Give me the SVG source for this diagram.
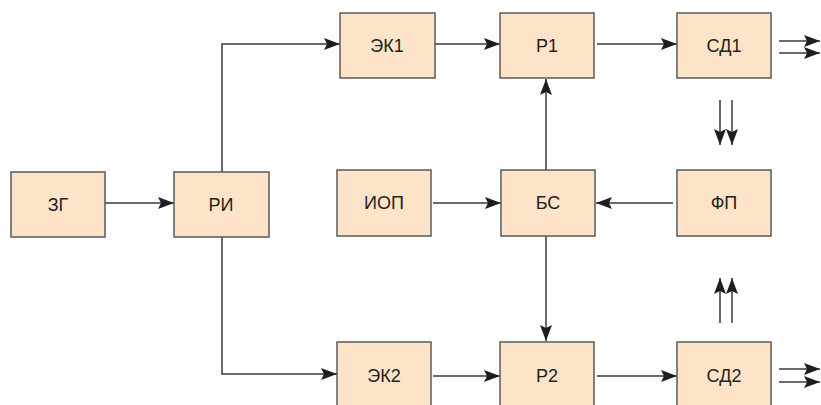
<svg xmlns="http://www.w3.org/2000/svg" width="821" height="405" viewBox="0 0 821 405">
<style>
.box{fill:#fde4c8;stroke:#5a5a5a;stroke-width:1.5}
.lbl{font-family:"Liberation Sans",Arial,sans-serif;font-size:18px;fill:#231f20;text-anchor:middle}
.ln{fill:none;stroke:#3a3a3a;stroke-width:1.5}
</style>
<defs>
<marker id="ah" viewBox="0 0 16 12" refX="16" refY="6" markerWidth="16" markerHeight="12" markerUnits="userSpaceOnUse" orient="auto">
<path d="M0,0 L16,6 L0,12 L3,6 Z" fill="#1e1e1e"/>
</marker>
</defs>
<rect width="821" height="405" fill="#ffffff"/>
<g id="connectors">
<path class="ln" d="M105,203 H174" marker-end="url(#ah)"/>
<path class="ln" d="M222,172 V44 H340" marker-end="url(#ah)"/>
<path class="ln" d="M222,237 V374 H337" marker-end="url(#ah)"/>
<path class="ln" d="M435,44 H500" marker-end="url(#ah)"/>
<path class="ln" d="M597,44 H677" marker-end="url(#ah)"/>
<path class="ln" d="M433,203 H501" marker-end="url(#ah)"/>
<path class="ln" d="M673,203 H596" marker-end="url(#ah)"/>
<path class="ln" d="M546,170 V79" marker-end="url(#ah)"/>
<path class="ln" d="M546,236 V341" marker-end="url(#ah)"/>
<path class="ln" d="M433,376 H500" marker-end="url(#ah)"/>
<path class="ln" d="M597,376 H677" marker-end="url(#ah)"/>
<path class="ln" d="M779,41 H820" marker-end="url(#ah)"/>
<path class="ln" d="M779,53 H820" marker-end="url(#ah)"/>
<path class="ln" d="M779,369 H820" marker-end="url(#ah)"/>
<path class="ln" d="M779,382 H820" marker-end="url(#ah)"/>
<path class="ln" d="M720,100 V145" marker-end="url(#ah)"/>
<path class="ln" d="M732,100 V145" marker-end="url(#ah)"/>
<path class="ln" d="M720,323 V278" marker-end="url(#ah)"/>
<path class="ln" d="M732,323 V278" marker-end="url(#ah)"/>
</g>
<g id="zg"><rect class="box" x="11" y="172" width="94" height="65"/><text class="lbl" x="58" y="211">ЗГ</text></g>
<g id="ri"><rect class="box" x="174" y="172" width="95" height="65"/><text class="lbl" x="221" y="211">РИ</text></g>
<g id="ek1"><rect class="box" x="340" y="13" width="95" height="65"/><text class="lbl" x="387" y="52">ЭК1</text></g>
<g id="p1"><rect class="box" x="500" y="13" width="94" height="65"/><text class="lbl" x="547" y="52">Р1</text></g>
<g id="sd1"><rect class="box" x="677" y="13" width="94" height="65"/><text class="lbl" x="724" y="52">СД1</text></g>
<g id="iop"><rect class="box" x="337" y="170" width="94" height="66"/><text class="lbl" x="384" y="209">ИОП</text></g>
<g id="bs"><rect class="box" x="501" y="170" width="94" height="66"/><text class="lbl" x="548" y="209">БС</text></g>
<g id="fp"><rect class="box" x="677" y="170" width="94" height="66"/><text class="lbl" x="724" y="209">ФП</text></g>
<g id="ek2"><rect class="box" x="337" y="342" width="94" height="70"/><text class="lbl" x="384" y="382">ЭК2</text></g>
<g id="p2"><rect class="box" x="500" y="342" width="94" height="70"/><text class="lbl" x="547" y="382">Р2</text></g>
<g id="sd2"><rect class="box" x="677" y="342" width="94" height="70"/><text class="lbl" x="724" y="382">СД2</text></g>
</svg>
